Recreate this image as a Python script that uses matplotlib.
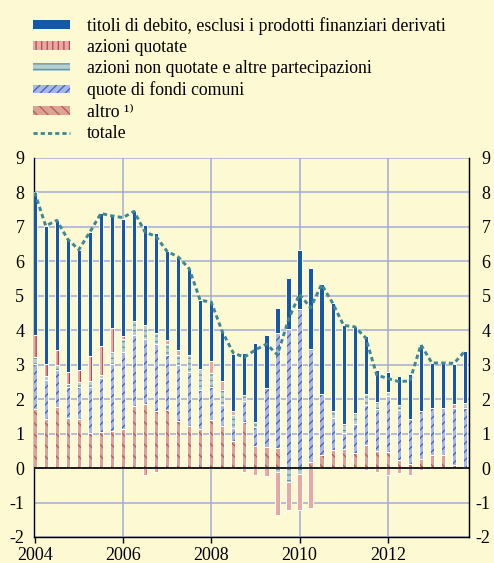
import numpy as np
import matplotlib
matplotlib.use('Agg')
import matplotlib.pyplot as plt
from matplotlib.patches import Patch
from matplotlib.lines import Line2D

plt.rcParams['font.family'] = ['Liberation Serif', 'DejaVu Serif']
plt.rcParams['axes.unicode_minus'] = False
plt.rcParams['hatch.linewidth'] = 0.9

# ---- data (quarterly, 2004 Q1 - 2013 Q4) ----
years = np.repeat(np.arange(2004, 2014), 4)
quarter = np.tile([1, 2, 3, 4], 10)

titoli = [4.15, 4.02, 3.75, 3.85, 3.48, 3.61, 3.86, 3.25, 3.42, 3.19,
          2.91, 2.89, 2.58, 2.71, 2.52, 2.02, 1.69, 1.46, 1.67, 1.21,
          2.30, 1.52, 0.73, 1.50, 1.71, 2.36, 3.19, 3.14, 2.87, 2.49,
          1.67, 0.92, 0.58, 0.82, 1.31, 1.94, 1.31, 1.31, 1.16, 1.50]
quotate = [0.63, 0.34, 0.46, 0.36, 0.36, 0.72, 0.82, 0.70, 0.08, 0.00,
           -0.20, -0.10, 0.12, 0.15, 0.00, 0.00, 0.34, 0.26, 0.12, -0.12,
           -0.21, -0.23, -1.25, -0.82, -1.07, -1.16, 0.00, 0.00, 0.00, 0.00,
           -0.05, -0.12, -0.19, -0.15, -0.20, -0.05, 0.00, 0.00, 0.13, 0.00]
non_quotate = [0.19, 0.12, 0.12, 0.08, 0.15, 0.17, 0.09, 0.34, 0.37, 0.41,
               0.40, 0.34, 0.30, 0.29, 0.48, 0.59, 0.42, 0.44, 0.37, 0.19,
               0.15, 0.00, -0.12, -0.41, -0.16, 0.00, 0.00, 0.20, 0.25, 0.31,
               0.34, 0.20, 0.13, 0.15, 0.00, 0.00, 0.00, 0.00, 0.00, 0.16]
fondi = [1.31, 1.12, 1.09, 0.90, 0.92, 1.32, 1.57, 1.94, 2.23, 2.06,
         1.89, 1.92, 1.59, 1.60, 1.57, 1.14, 0.95, 0.60, 0.36, 0.60,
         0.55, 1.72, 3.33, 4.03, 4.61, 3.26, 1.75, 0.92, 0.46, 0.84,
         1.16, 1.23, 1.62, 1.47, 1.30, 1.42, 1.37, 1.35, 1.64, 1.71]
altro = [1.72, 1.43, 1.77, 1.45, 1.43, 1.03, 1.05, 1.09, 1.14, 1.79,
         1.85, 1.67, 1.70, 1.38, 1.22, 1.14, 1.40, 1.22, 0.80, 1.34,
         0.64, 0.61, 0.59, 0.00, 0.00, 0.19, 0.39, 0.53, 0.56, 0.45,
         0.66, 0.49, 0.46, 0.22, 0.13, 0.25, 0.37, 0.39, 0.10, 0.03]
totale = [8.00, 7.03, 7.19, 6.64, 6.34, 6.85, 7.39, 7.32, 7.27, 7.45,
          6.85, 6.72, 6.29, 6.13, 5.79, 4.87, 4.82, 3.96, 3.34, 3.22,
          3.43, 3.60, 3.29, 4.31, 5.05, 4.65, 5.33, 4.79, 4.14, 4.10,
          3.78, 2.70, 2.60, 2.51, 2.53, 3.58, 3.05, 3.05, 3.04, 3.40]

labels = ['titoli di debito, esclusi i prodotti finanziari derivati',
          'azioni quotate',
          'azioni non quotate e altre partecipazioni',
          'quote di fondi comuni',
          'altro \u00b9\u207e',
          'totale']
xticks = [2004, 2006, 2008, 2010, 2012]
yticks = list(range(-2, 10))

BG = '#fdf9d3'
GRID = '#a3abd8'
TOT = '#3f8791'
# (face, hatch, hatch colour)
styles = {
    'altro': ('#dca293', '\\\\\\', '#c0545a'),
    'fondi': ('#a9b7e6', '////', '#3b62c2'),
    'nonq': ('#b7cdd0', '---', '#5f9aa2'),
    'quot': ('#e6aaa4', '|||', '#c2404c'),
    'tit': ('#1658a8', None, None),
}

x = years + (quarter - 1) / 4.0

fig = plt.figure(figsize=(4.94, 5.63), dpi=100, facecolor=BG)
ax = fig.add_axes([0.0688, 0.0462, 0.8806, 0.6732], facecolor=BG)

series = [('altro', altro), ('fondi', fondi), ('nonq', non_quotate),
          ('quot', quotate), ('tit', titoli)]
pos = np.zeros(len(x))
neg = np.zeros(len(x))
w = 0.095
for key, vals in series:
    v = np.asarray(vals, dtype=float)
    bottom = np.where(v >= 0, pos, neg)
    face, hatch, hcol = styles[key]
    ax.bar(x, v, w, bottom=bottom, color=face, linewidth=0, zorder=3)
    if hatch:
        ax.bar(x, v, w, bottom=bottom, facecolor='none', edgecolor=hcol,
               hatch=hatch, linewidth=0, zorder=3.1)
    mask = v != 0
    ax.bar(x[mask], v[mask], w, bottom=bottom[mask], facecolor='none',
           edgecolor='white', linewidth=0.7, zorder=3.2)
    pos = pos + np.where(v > 0, v, 0)
    neg = neg + np.where(v < 0, v, 0)

ax.plot(x, totale, color=TOT, lw=2.1, ls=(0, (1.5, 1.1)), zorder=5)

ax.set_xlim(2003.984, 2013.84)
ax.set_ylim(-2, 9)
ax.set_yticks(yticks)
ax.set_xticks(xticks)
for yv in yticks:
    ax.axhline(yv, color=GRID, lw=1.1, zorder=1)
for xv in xticks[1:]:
    ax.axvline(xv, color=GRID, lw=1.1, zorder=1)
ax.axhline(0, color='black', lw=1.2, zorder=4)

for s in ['left', 'right', 'bottom']:
    ax.spines[s].set_color('black')
    ax.spines[s].set_linewidth(1.0)
ax.spines['top'].set_visible(False)

ax.tick_params(axis='y', length=0, labelsize=13, left=False, right=False,
               labelleft=True, labelright=False, pad=7)
ax.tick_params(axis='x', length=4, width=1, direction='out', labelsize=13, pad=3)

# right-hand labels, right aligned near figure edge
ax2 = ax.twinx()
ax2.set_ylim(-2, 9)
ax2.set_yticks(yticks)
ax2.tick_params(axis='y', length=0, labelsize=13, pad=15.5)
for lbl in ax2.get_yticklabels():
    lbl.set_horizontalalignment('right')
for s in ['left', 'top', 'bottom']:
    ax2.spines[s].set_visible(False)
ax2.spines['right'].set_color('black')

handles = []
for key in ['tit', 'quot', 'nonq', 'fondi', 'altro']:
    face, hatch, hcol = styles[key]
    if hatch:
        handles.append(Patch(facecolor=face, edgecolor=hcol, hatch=hatch, linewidth=0))
    else:
        handles.append(Patch(facecolor=face, edgecolor=face, linewidth=0))
handles.append(Line2D([0], [0], color=TOT, lw=2.0, ls=(0, (1.5, 1.1))))

fig.legend(handles, labels, loc='upper left', bbox_to_anchor=(0.066, 0.970),
           frameon=False, fontsize=12.8, handlelength=2.1, handleheight=0.35,
           labelspacing=0.24, handletextpad=0.95, borderpad=0, borderaxespad=0)

fig.savefig('out.png', dpi=100, facecolor=BG)
